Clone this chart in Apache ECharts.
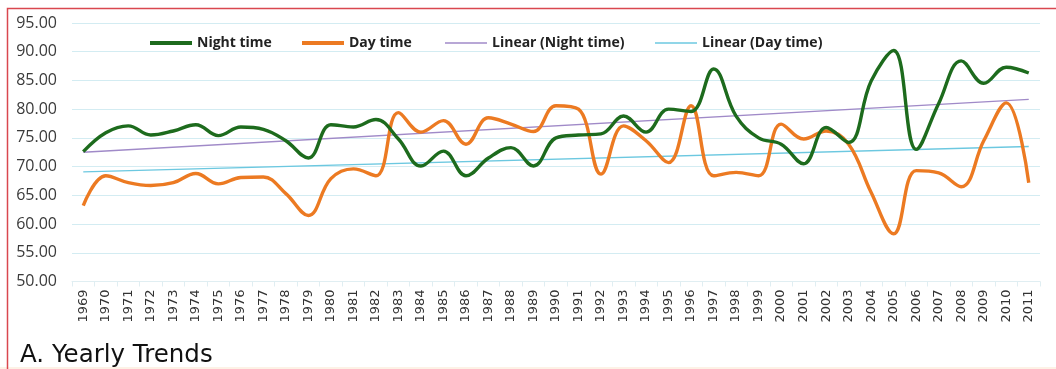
<!DOCTYPE html>
<html>
<head>
<meta charset="utf-8">
<script src="https://cdn.jsdelivr.net/npm/echarts@6/dist/echarts.min.js"></script>
<style>
html,body{margin:0;padding:0;background:#fff;}
#c{width:1056px;height:369px;}
</style>
</head>
<body>
<div id="c"></div>
<script>
const years = ['1969','1970','1971','1972','1973','1974','1975','1976','1977','1978','1979','1980','1981','1982','1983','1984','1985','1986','1987','1988','1989','1990','1991','1992','1993','1994','1995','1996','1997','1998','1999','2000','2001','2002','2003','2004','2005','2006','2007','2008','2009','2010','2011'];
const nightTime = [72.6,75.9,77.1,75.5,76.2,77.3,75.4,76.9,76.5,74.5,71.5,77.3,76.9,78.2,74.8,70.1,72.7,68.4,71.5,73.3,70.1,75.0,75.5,75.7,78.8,76.0,80.0,79.6,87.0,78.8,75.0,73.9,70.5,76.8,74.2,84.9,90.2,73.0,81.0,88.4,84.5,87.3,86.3];
const dayTime = [63.2,68.4,67.2,66.7,67.2,68.8,67.0,68.1,68.2,65.3,61.5,67.9,69.6,68.4,79.4,76.0,78.0,73.9,78.5,77.4,76.1,80.6,80.0,68.7,77.1,74.5,70.7,80.6,68.4,69.0,68.4,77.4,74.8,76.2,73.9,65.5,58.3,69.3,68.9,66.5,74.5,81.1,67.2];
const trendNightEnds = [72.5, 81.7];
const trendDayEnds = [69.1, 73.5];
const yTicks = ['50.00','55.00','60.00','65.00','70.00','75.00','80.00','85.00','90.00','95.00'];
const seriesNames = ['Night time','Day time','Linear (Night time)','Linear (Day time)'];

function endsSeries(ends){
  const arr = years.map(()=>null);
  arr[0] = ends[0];
  arr[years.length-1] = ends[1];
  return arr;
}

const colors = ['#1d6b1d','#ec7a22','#a08ac8','#6cc8e0'];
const legendLefts = [145, 297, 440, 650];
const legendIconH = [4, 4, 1.5, 1.5];
const legendText = {fontFamily:'Open Sans', fontWeight:'bold', fontSize:14, color:'#222'};
const legends = seriesNames.map((n,i)=>({
  top:31, left:legendLefts[i], itemWidth:42, itemHeight:legendIconH[i], itemGap:0,
  icon:'rect',
  textStyle:legendText,
  data:[{name:n, icon:'rect', itemStyle:{color:colors[i]}}]
}));

const chart = echarts.init(document.getElementById('c'), null, {renderer:'canvas'});
chart.setOption({
  animation:false,
  backgroundColor:'#fff',
  grid:{left:72, right:16, top:23, height:258.5, containLabel:false},
  legend:legends,
  xAxis:{
    type:'category', data:years, boundaryGap:true,
    axisLine:{show:true, lineStyle:{color:'#e0eef2'}},
    axisTick:{show:true, alignWithLabel:false, length:5, lineStyle:{color:'#e0eef2'}},
    axisLabel:{rotate:90, interval:0, fontSize:13, fontFamily:'DejaVu Sans', color:'#333', margin:8}
  },
  yAxis:{
    type:'value', min:50, max:95, interval:5,
    axisLine:{show:false}, axisTick:{show:false},
    splitLine:{lineStyle:{color:'#d3ecf2', width:1}},
    axisLabel:{fontSize:16, fontFamily:'Open Sans', color:'#3a3a3a', margin:15,
      formatter:function(v){ const s = yTicks[Math.round((v-50)/5)]; return s===undefined ? '' : s; }}
  },
  series:[
    {name:'Linear (Night time)', type:'line', data:endsSeries(trendNightEnds), connectNulls:true, symbol:'none',
      itemStyle:{color:colors[2]}, lineStyle:{color:colors[2], width:1.3}, z:1},
    {name:'Linear (Day time)', type:'line', data:endsSeries(trendDayEnds), connectNulls:true, symbol:'none',
      itemStyle:{color:colors[3]}, lineStyle:{color:colors[3], width:1.3}, z:1},
    {name:'Night time', type:'line', data:nightTime, smooth:0.4, symbol:'none',
      itemStyle:{color:colors[0]}, lineStyle:{color:colors[0], width:3.4}, z:3},
    {name:'Day time', type:'line', data:dayTime, smooth:0.4, symbol:'none',
      itemStyle:{color:colors[1]}, lineStyle:{color:colors[1], width:3.4}, z:2}
  ],
  graphic:[
    {type:'text', left:20, top:343, style:{text:'A. Yearly Trends', fontFamily:'DejaVu Sans', fontSize:24.5, fill:'#111'}, z:9},
    {type:'rect', shape:{x:0, y:367, width:1056, height:2}, style:{fill:'#fdf2e6'}, z:10},
    {type:'rect', shape:{x:7.5, y:8.5, width:1060, height:380}, style:{fill:null, stroke:'#d9474f', lineWidth:1.5}, z:11}
  ]
});
</script>
</body>
</html>
